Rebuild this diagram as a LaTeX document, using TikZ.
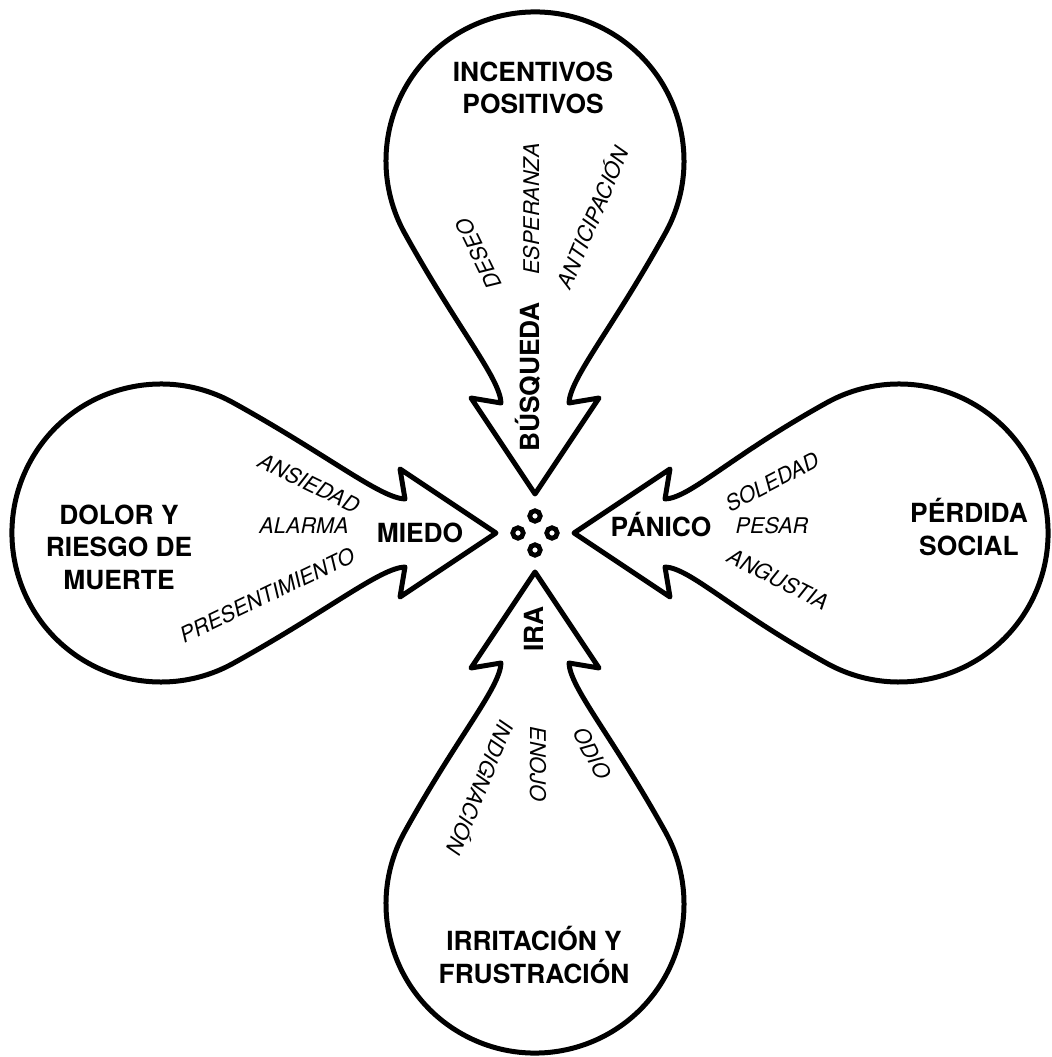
\documentclass[tikz,border=0pt]{standalone}
\usepackage{fontspec}
\setmainfont{TeX Gyre Heros}
\usepackage{tikz}
\tikzset{
  gota/.style = {
    draw = black,
    line width = 0.1cm,
    line join = round
  },
  punto/.style = {
    circle,
    draw = black,
    line width = 0.095cm,
    minimum size = 0.21cm,
    inner sep = 0pt
  },
  fuente/.style = {
    align = center,
    inner sep = 0pt,
    font = \fontsize{15}{18.5}\selectfont\bfseries
  },
  sistema/.style = {
    inner sep = 0pt,
    anchor = base,
    font = \fontsize{15}{18.5}\selectfont\bfseries
  },
  emocion/.style = {
    inner sep = 0pt,
    font = \fontsize{12.3}{14}\selectfont\itshape
  }
}
\newcommand{\gota}[2]{
  \draw[gota, rotate = #1]
    (0,39) -- (64,135) -- (34,130)
    .. controls (35,155) and (76.9,#2-168.5) .. (130.3,#2-72.2)
    arc[start angle = -29, end angle = 209, radius = 149]
    .. controls (-76.9,#2-168.5) and (-35,155) .. (-34,130)
    -- (-64,135) -- cycle;
}

\begin{document}
\begin{tikzpicture}[x = 0.02cm, y = 0.02cm]
  \useasboundingbox (-535,-524) rectangle (516,533);

  % Gotas.
  \gota{0}{372}
  \gota{90}{374}
  \gota{180}{371}
  \gota{-90}{364}

  % Centro.
  \node[punto] (p1) at (0,17) {};
  \node[punto] (p2) at (-17,0) {};
  \node[punto] (p3) at (17,0) {};
  \node[punto] (p4) at (0,-17) {};

  % Busqueda.
  \node[fuente] (incentivos) at (-2,445) {INCENTIVOS\\POSITIVOS};
  \node[emocion, rotate = 116] (deseo) at (-56,279) {DESEO};
  \node[emocion, anchor = base, rotate = 90] (esperanza) at (4,324) {ESPERANZA};
  \node[emocion, rotate = 67] (anticipacion) at (56,316) {ANTICIPACIÓN};
  \node[sistema, rotate = 90] (busqueda) at (4,156) {BÚSQUEDA};

  % Miedo.
  \node[fuente] (dolor) at (-416,-14) {DOLOR Y\\RIESGO DE\\MUERTE};
  \node[emocion, rotate = -26] (ansiedad) at (-226,50) {ANSIEDAD};
  \node[emocion, anchor = base] (alarma) at (-231,-1) {ALARMA};
  \node[emocion, rotate = 25.6] (presentimiento) at (-268,-62) {PRESENTIMIENTO};
  \node[sistema] (miedo) at (-115,-10) {MIEDO};

  % Panico.
  \node[fuente] (perdida) at (434,6) {PÉRDIDA\\SOCIAL};
  \node[emocion, rotate = 27.5] (soledad) at (237,51) {SOLEDAD};
  \node[emocion, anchor = base] (pesar) at (237,-1) {PESAR};
  \node[emocion, rotate = -26.6] (angustia) at (243,-46) {ANGUSTIA};
  \node[sistema] (panico) at (126,-4) {PÁNICO};

  % Ira.
  \node[fuente] (irritacion) at (-1,-422) {IRRITACIÓN Y\\FRUSTRACIÓN};
  \node[emocion, rotate = -112.3] (indignacion) at (-53,-255) {INDIGNACIÓN};
  \node[emocion, anchor = base, rotate = -90] (enojo) at (-5,-231) {ENOJO};
  \node[emocion, rotate = -62] (odio) at (57,-220) {ODIO};
  \node[sistema, rotate = 90] (ira) at (8,-96) {IRA};
\end{tikzpicture}
\end{document}
